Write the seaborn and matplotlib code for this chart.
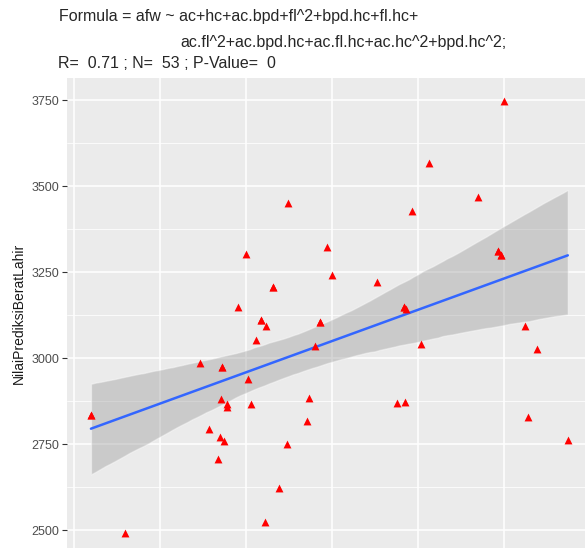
import matplotlib
matplotlib.use("Agg")
import matplotlib.pyplot as plt
import seaborn as sns
import numpy as np
import pandas as pd

# actual fetal weight (x) vs predicted birth weight (y), read off the picture
# (N = 53; a few points sit exactly on top of others)
afw = [2097, 2295, 2733, 2785, 2837, 2849, 2851, 2860, 2872, 2886,
       2886, 2953, 2997, 3012, 3029, 3055, 3084, 3109, 3115, 3157,
       3190, 3237, 3243, 3355, 3366, 3400, 3427, 3472, 3500, 3762,
       3875, 3919, 3929, 3921, 3962, 4017, 4062, 4345, 4462, 4479,
       4497, 4622, 4638, 4688, 4869,
       2860, 3084, 3157, 3427, 3919, 4462, 4479, 2097]
pred = [2835, 2493, 2985, 2794, 2708, 2772, 2882, 2974, 2760, 2866,
        2857, 3147, 3302, 2939, 2866, 3052, 3112, 2524, 3094, 3207,
        2621, 2750, 3450, 2818, 2885, 3036, 3105, 3324, 3242, 3220,
        2870, 3147, 3143, 2873, 3428, 3041, 3566, 3469, 3311, 3299,
        3748, 3094, 2830, 3025, 2762,
        2974, 3112, 3207, 3105, 3147, 3311, 3299, 2835]

y_ticks = [2500, 2750, 3000, 3250, 3500, 3750]
y_minor = [2625, 2875, 3125, 3375, 3625]
x_ticks = [2000, 2500, 3000, 3500, 4000, 4500]

title_1 = "Formula = afw ~ ac+hc+ac.bpd+fl^2+bpd.hc+fl.hc+"
title_2 = "ac.fl^2+ac.bpd.hc+ac.fl.hc+ac.hc^2+bpd.hc^2;"
title_3 = "R=  0.71 ; N=  53 ; P-Value=  0"

df = pd.DataFrame({"afw": afw, "pred": pred})

sns.set_theme(style="darkgrid")
plt.rcParams["font.family"] = ["Liberation Sans", "DejaVu Sans"]

W, H = 585, 548
fig = plt.figure(figsize=(W / 100, H / 100), dpi=100)
ax = fig.add_axes([66.7 / W, 0, 1 - 66.7 / W, 1 - 78 / H])
ax.set_facecolor("#EBEBEB")

# regression line + confidence band
sns.regplot(data=df, x="afw", y="pred", scatter=False, ax=ax,
            color="#3366FF", line_kws={"lw": 1.8}, n_boot=2000, seed=7)
for coll in ax.collections:
    coll.set_facecolor("#999999")
    coll.set_alpha(0.4)

sns.scatterplot(data=df, x="afw", y="pred", ax=ax, marker="^", color="red",
                s=32, linewidth=0, zorder=4)

ax.set_xlim(1956, 4969)
ax.set_ylim(2448, 3814)
ax.set_yticks(y_ticks)
ax.set_yticks(y_minor, minor=True)
ax.set_xticks(x_ticks)
ax.grid(which="major", color="white", lw=1.1)
ax.grid(which="minor", axis="y", color="white", lw=0.55)
ax.set_axisbelow(True)
for s in ax.spines.values():
    s.set_visible(False)

ax.tick_params(axis="x", labelbottom=False, length=0)
ax.tick_params(axis="y", which="major", length=3.5, width=0.8, color="#333333",
               labelcolor="#4D4D4D", labelsize=9, pad=2, left=True)
ax.tick_params(axis="y", which="minor", length=0)
ax.set_xlabel("")
ax.set_ylabel("NilaiPrediksiBeratLahir", fontsize=10, color="#1A1A1A", labelpad=4)

fig.text(59 / W, 1 - 17 / H, title_1, va="center", ha="left", fontsize=11.5)
fig.text(180 / W, 1 - 42 / H, title_2, va="center", ha="left", fontsize=11.5)
fig.text(58 / W, 1 - 63 / H, title_3, va="center", ha="left", fontsize=11.5)

fig.savefig("out.png", dpi=100)
